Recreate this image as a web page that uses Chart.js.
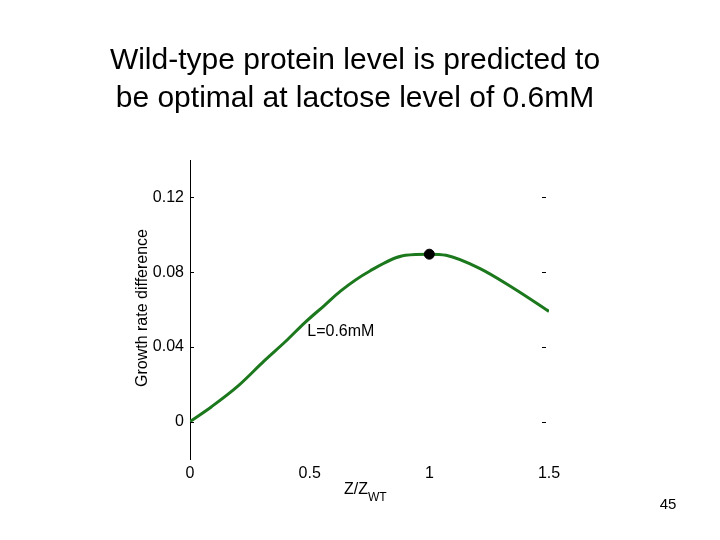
<!DOCTYPE html>
<html>
<head>
<meta charset="utf-8">
<script src="https://cdn.jsdelivr.net/npm/chart.js@4"></script>
<style>
  html, body { margin: 0; padding: 0; background: #fff; }
  #wrap { width: 720px; height: 540px; }
</style>
</head>
<body>
<div id="wrap"><canvas id="growth_chart"></canvas></div>
<script>
// Values
const titleLines = ["Wild-type protein level is predicted to", "be optimal at lactose level of 0.6mM"];
const xValues = [0, 0.09, 0.2, 0.31, 0.4, 0.48, 0.56, 0.63, 0.75, 0.9, 1.0, 1.07, 1.21, 1.35, 1.5];
const yValues = [0, 0.008, 0.019, 0.0325, 0.043, 0.053, 0.062, 0.070, 0.0805, 0.089, 0.0896, 0.089, 0.082, 0.0715, 0.059];
const optimumPoint = [{ x: 1.0, y: 0.0896 }];
const yTickValues = [0, 0.04, 0.08, 0.12];
const xTickValues = [0, 0.5, 1, 1.5];
const noteText = "L=0.6mM";
const notePos = { x: 0.49, y: 0.048 };
const pageNumber = "45";

const FONT = "'Liberation Sans', Arial, sans-serif";

// draws the title, axis names, the note and the little inside ticks
const extraText = {
    id: "extraText",
    afterDraw(chart) {
        const ctx = chart.ctx;
        const xs = chart.scales.x;
        const ys = chart.scales.y;
        const area = chart.chartArea;
        ctx.save();
        ctx.fillStyle = "#000";

        // title
        ctx.font = "30px " + FONT;
        ctx.textAlign = "center";
        ctx.textBaseline = "middle";
        ctx.fillText(titleLines[0], 355, 61);
        ctx.fillText(titleLines[1], 355, 99);

        // tick marks inside the box, left and right
        ctx.strokeStyle = "#000";
        ctx.lineWidth = 1;
        yTickValues.forEach(v => {
            const py = Math.round(ys.getPixelForValue(v)) + 0.5;
            ctx.beginPath();
            ctx.moveTo(area.left, py);
            ctx.lineTo(area.left + 4, py);
            ctx.moveTo(area.right - 7, py);
            ctx.lineTo(area.right - 3, py);
            ctx.stroke();
        });

        // y axis name
        ctx.font = "16px " + FONT;
        ctx.save();
        ctx.translate(143, 308);
        ctx.rotate(-Math.PI / 2);
        ctx.fillText("Growth rate difference", 0, 0);
        ctx.restore();

        // x axis name Z/Z with subscript WT
        ctx.textAlign = "left";
        ctx.font = "16px " + FONT;
        ctx.fillText("Z/Z", 344, 490);
        const w = ctx.measureText("Z/Z").width;
        ctx.font = "12px " + FONT;
        ctx.fillText("WT", 344 + w, 498);

        // note next to the curve
        ctx.font = "16px " + FONT;
        ctx.fillText(noteText, xs.getPixelForValue(notePos.x), ys.getPixelForValue(notePos.y));

        // page number
        ctx.font = "15px " + FONT;
        ctx.textAlign = "center";
        ctx.fillText(pageNumber, 668, 505);
        ctx.restore();
    }
};

const canvas = document.getElementById("growth_chart");

new Chart(canvas, {
    type: "scatter",
    data: {
        datasets: [
            {
                data: optimumPoint,
                pointRadius: 5,
                pointBackgroundColor: "#000",
                pointBorderColor: "#000",
                showLine: false,
                order: 0
            },
            {
                data: xValues.map((x, i) => ({ x: x, y: yValues[i] })),
                showLine: true,
                borderColor: "#1c781c",
                borderWidth: 3,
                pointRadius: 0,
                cubicInterpolationMode: "monotone",
                order: 1
            }
        ]
    },
    options: {
        responsive: true,
        maintainAspectRatio: false,
        animation: false,
        layout: { padding: { left: 140, right: 171, top: 160, bottom: 51 } },
        plugins: {
            legend: { display: false },
            tooltip: { enabled: false }
        },
        scales: {
            x: {
                type: "linear",
                min: 0,
                max: 1.5,
                afterBuildTicks: axis => { axis.ticks = xTickValues.map(v => ({ value: v })); },
                afterFit: axis => { axis.height = 30; },
                grid: { display: false, drawTicks: false },
                border: { display: false },
                ticks: {
                    padding: 5,
                    color: "#000",
                    font: { family: FONT, size: 16 },
                    maxRotation: 0,
                    callback: v => String(v)
                }
            },
            y: {
                min: -0.02,
                max: 0.14,
                afterBuildTicks: axis => { axis.ticks = yTickValues.map(v => ({ value: v })); },
                afterFit: axis => { axis.width = 50; },
                grid: { display: false, drawTicks: false },
                border: { display: true, color: "#000", width: 1 },
                ticks: {
                    padding: 6,
                    color: "#000",
                    font: { family: FONT, size: 16 },
                    callback: v => String(v)
                }
            }
        }
    },
    plugins: [extraText]
});
</script>
</body>
</html>
